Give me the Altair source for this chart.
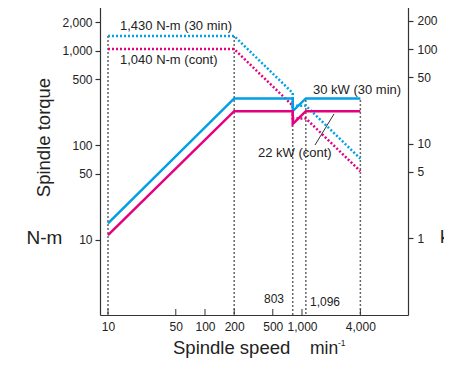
import altair as alt
import pandas as pd

# ---- data ----
speed_pts = [10, 200, 803, 803, 1096, 4000]
torque_30min = [1430, 1430, 357, 262, 262, 72]
torque_cont = [1040, 1040, 262, 192, 192, 53]
power_30min = [1.43, 30, 30, 22, 30, 30]
power_cont = [1.07, 22, 22, 16.1, 22, 22]

guide_speeds = [10, 200, 803, 1096, 4000]
guide_tops = [1430, 1430, 357, 300, 300]

x_ticks = [10, 50, 100, 200, 500, 1000, 4000]
torque_ticks = [10, 50, 100, 500, 1000, 2000]
power_ticks = [1, 5, 10, 50, 100, 200]

series_names = ["30 min", "cont"]
series_colors = ["#00A0E9", "#E4007F"]

FONT = "Liberation Sans"

torque_df = pd.DataFrame({
    "speed": speed_pts * 2,
    "value": torque_30min + torque_cont,
    "series": [series_names[0]] * len(speed_pts) + [series_names[1]] * len(speed_pts),
    "idx": list(range(len(speed_pts))) * 2,
})
power_df = pd.DataFrame({
    "speed": speed_pts * 2,
    "value": power_30min + power_cont,
    "series": [series_names[0]] * len(speed_pts) + [series_names[1]] * len(speed_pts),
    "idx": list(range(len(speed_pts))) * 2,
})
guide_df = pd.DataFrame({"speed": guide_speeds, "top": guide_tops})
xtick_df = pd.DataFrame({"speed": x_ticks})

W, H = 308, 315

x_scale = alt.Scale(type="log", domain=[8.27, 12390], nice=False)
y_torque = alt.Scale(type="log", domain=[1.597, 3440], nice=False)
y_power = alt.Scale(type="log", domain=[0.1532, 330], nice=False)
color_scale = alt.Scale(domain=series_names, range=series_colors)

x_axis = alt.Axis(values=x_ticks, format=",", ticks=False, labelPadding=6,
                  labelOverlap=False, labelFlush=False, grid=False, title=None)

guides = alt.Chart(guide_df).mark_rule(
    color="#666", strokeWidth=1.5, strokeDash=[2, 2]
).encode(
    x=alt.X("speed:Q", scale=x_scale, axis=x_axis),
    y=alt.Y("top:Q", scale=y_torque,
            axis=alt.Axis(values=torque_ticks, format=",", orient="left", tickSize=5,
                          labelPadding=3, grid=False, title=None)),
    y2=alt.value(H),
)

xticks = alt.Chart(xtick_df).mark_rule(color="#333", strokeWidth=1).encode(
    x=alt.X("speed:Q", scale=x_scale, axis=x_axis),
    y=alt.value(H),
    y2=alt.value(H - 6),
)

torque_lines = alt.Chart(torque_df).mark_line(
    strokeWidth=2.5, strokeDash=[2, 2], strokeCap="butt"
).encode(
    x=alt.X("speed:Q", scale=x_scale, axis=x_axis),
    y=alt.Y("value:Q", scale=y_torque),
    color=alt.Color("series:N", scale=color_scale, legend=None),
    detail="series:N",
    order="idx:Q",
)

torque_layer = alt.layer(guides, xticks, torque_lines)

power_layer = alt.Chart(power_df).mark_line(strokeWidth=2.5).encode(
    x=alt.X("speed:Q", scale=x_scale, axis=x_axis),
    y=alt.Y("value:Q", scale=y_power,
            axis=alt.Axis(values=power_ticks, format=",", orient="right", tickSize=5,
                          labelPadding=4, grid=False, title=None)),
    color=alt.Color("series:N", scale=color_scale, legend=None),
    detail="series:N",
    order="idx:Q",
)


def label(text, x, y, size=13, align="left", angle=0, baseline="middle"):
    return alt.Chart(pd.DataFrame({"t": [text]})).mark_text(
        align=align, baseline=baseline, fontSize=size, font=FONT, color="#222", angle=angle
    ).encode(x=alt.value(x), y=alt.value(y), text="t:N")


annotations = [
    label("1,430 N-m (30 min)", 20, 25.7),
    label("1,040 N-m (cont)", 20, 60),
    label("30 kW (30 min)", 213, 90),
    label("22 kW (cont)", 158, 153),
    label("803", 184, 299, size=12, align="right"),
    label("1,096", 210, 302, size=12),
    label("Spindle torque", -56, 137.5, size=18.5, align="center", angle=270),
    label("N-m", -55.5, 238.3, size=19, align="center"),
    label("Motor output", 353, 138.5, size=18.5, align="center", angle=270),
    label("kW", 340, 237, size=19),
    label("Spindle speed", 73, 354, size=18.5, baseline="alphabetic"),
    label("min", 210, 354, size=17.5, baseline="alphabetic"),
    label("-1", 238, 346, size=8.5, baseline="alphabetic"),
]

leader = alt.Chart(pd.DataFrame({"a": [0]})).mark_rule(color="#333", strokeWidth=1).encode(
    x=alt.value(215), y=alt.value(145), x2=alt.value(234), y2=alt.value(114)
)

chart = alt.layer(torque_layer, power_layer, leader, *annotations).resolve_scale(
    y="independent"
).properties(
    width=W, height=H,
    autosize=alt.AutoSizeParams(type="none"),
    padding={"left": 92, "top": -8, "right": 36, "bottom": 43},
).configure_view(stroke=None).configure_axis(
    labelFont=FONT, labelFontSize=12, labelColor="#222",
    domainColor="#333", domainWidth=1.2, tickColor="#333", tickWidth=1.2,
)

chart.save("out.html", embed_options={"renderer": "svg", "actions": False})
